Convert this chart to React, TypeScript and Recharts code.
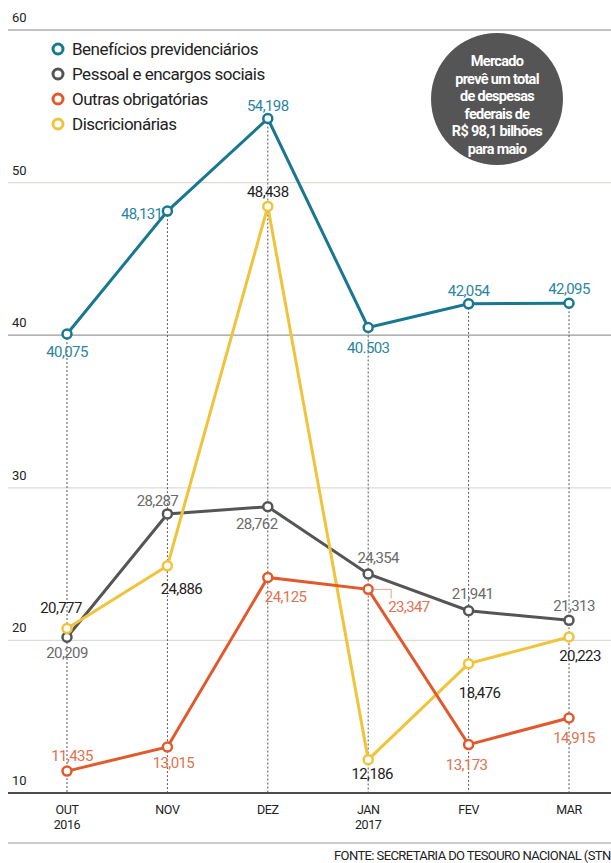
import React from 'react';
import { LineChart, Line, XAxis, YAxis, ReferenceLine } from 'recharts';

const months = ['OUT', 'NOV', 'DEZ', 'JAN', 'FEV', 'MAR'];
const years = ['2016', '', '', '2017', '', ''];

const beneficios = [40.075, 48.131, 54.198, 40.503, 42.054, 42.095];
const pessoal = [20.209, 28.287, 28.762, 24.354, 21.941, 21.313];
const outras = [11.435, 13.015, 24.125, 23.347, 13.173, 14.915];
const discricionarias = [20.777, 24.886, 48.438, 12.186, 18.476, 20.223];

const beneficiosLabels = ['40,075', '48,131', '54,198', '40.503', '42,054', '42,095'];
const pessoalLabels = ['20,209', '28,287', '28,762', '24,354', '21,941', '21,313'];
const outrasLabels = ['11,435', '13,015', '24,125', '23,347', '13,173', '14,915'];
const discricionariasLabels = ['20,777', '24,886', '48,438', '12,186', '18,476', '20,223'];

const yTicks = [60, 50, 40, 30, 20, 10];

const seriesNames = [
  'Benefícios previdenciários',
  'Pessoal e encargos sociais',
  'Outras obrigatórias',
  'Discricionárias',
];

const badgeLines = ['Mercado', 'prevê um total', 'de despesas', 'federais de', 'R$ 98,1 bilhões', 'para maio'];
const sourceText = 'FONTE: SECRETARIA DO TESOURO NACIONAL (STN';

const FONT = "Roboto, 'Noto Sans', sans-serif";

const C_BEN = '#17788f';
const C_PES = '#555555';
const C_OUT = '#e2592c';
const C_DIS = '#f0c43a';
const colors = [C_BEN, C_PES, C_OUT, C_DIS];

const data = months.map((m, i) => ({
  month: m,
  ben: beneficios[i],
  pes: pessoal[i],
  out: outras[i],
  dis: discricionarias[i],
  top: Math.max(beneficios[i], pessoal[i], outras[i], discricionarias[i]),
}));

type Place = [number, number, 'start' | 'middle' | 'end'];

const benPlace: Place[] = [[0, 23, 'middle'], [-5, 8, 'end'], [0, -8, 'middle'], [0, 25, 'middle'], [0, -8, 'middle'], [0, -9, 'middle']];
const pesPlace: Place[] = [[0, 21, 'middle'], [-10, -8, 'middle'], [-11, 22, 'middle'], [10, -11, 'middle'], [4, -12, 'middle'], [5, -9, 'middle']];
const outPlace: Place[] = [[5, -10, 'middle'], [6, 21, 'middle'], [-3, 25, 'start'], [20, 23, 'start'], [-2, 25, 'middle'], [5, 25, 'middle']];
const disPlace: Place[] = [[-6, -16, 'middle'], [14, 28, 'middle'], [0, -9, 'middle'], [4, 19, 'middle'], [11, 34, 'middle'], [11, 24, 'middle']];

const makeLabel = (texts: string[], place: Place[], color: string, bracket?: number) => (props: any) => {
  const { x, y, index } = props;
  const [dx, dy, anchor] = place[index];
  return (
    <g key={`lbl-${index}-${texts[index]}`}>
      {bracket === index && (
        <polyline
          points={`${x + 5},${y} ${x + 23},${y} ${x + 23},${y + 9}`}
          fill="none"
          stroke="#eaa08c"
          strokeWidth={1}
        />
      )}
      <text
        x={x + dx}
        y={y + dy}
        textAnchor={anchor}
        fill={color}
        fontSize={15}
        letterSpacing={-0.6}
        fontFamily={FONT}
      >
        {texts[index]}
      </text>
    </g>
  );
};

const XTick = (props: any) => {
  const { x, y, payload, index } = props;
  return (
    <g>
      <text x={x} y={y + 13} textAnchor="middle" fill="#222" fontSize={12.5} letterSpacing={-0.4} fontFamily={FONT}>
        {payload.value}
      </text>
      {years[index] && (
        <text x={x} y={y + 28} textAnchor="middle" fill="#222" fontSize={12.5} letterSpacing={-0.4} fontFamily={FONT}>
          {years[index]}
        </text>
      )}
    </g>
  );
};

const gridColor = (v: number) => {
  if (v === 10) return '#111';
  if (v === 60) return '#888';
  if (v === 40) return '#999';
  return '#dcdcd6';
};

const dotStyle = (c: string) => ({ r: 4.5, fill: '#fff', stroke: c, strokeWidth: 2.5 });

export default function App() {
  return (
    <div style={{ position: 'absolute', left: 0, top: 0, width: 611, height: 863, background: '#fff', overflow: 'hidden' }}>
      <LineChart width={611} height={863} data={data} margin={{ top: 30, right: 0, bottom: 40, left: 8 }}>
        <XAxis
          dataKey="month"
          height={30}
          padding={{ left: 59, right: 42 }}
          axisLine={false}
          tickLine={false}
          tick={<XTick />}
          interval={0}
        />
        <YAxis hide domain={[10, 60]} ticks={yTicks} type="number" allowDataOverflow />
        {yTicks.map((v) => (
          <ReferenceLine
            key={`g${v}`}
            y={v}
            stroke={gridColor(v)}
            strokeWidth={v === 10 ? 1.5 : 1.2}
            label={(p: any) => (
              <text x={p.viewBox.x + 4} y={p.viewBox.y - 8} fill="#222" fontSize={13} fontFamily={FONT}>
                {v}
              </text>
            )}
          />
        ))}
        {data.map((d) => (
          <ReferenceLine
            key={`v${d.month}`}
            segment={[{ x: d.month, y: d.top }, { x: d.month, y: 10 }]}
            stroke="#555"
            strokeDasharray="2 2"
            strokeWidth={1}
          />
        ))}
        <Line
          dataKey="ben"
          stroke={C_BEN}
          strokeWidth={3}
          dot={dotStyle(C_BEN)}
          activeDot={false}
          isAnimationActive={false}
          label={makeLabel(beneficiosLabels, benPlace, '#2a86a0')}
        />
        <Line
          dataKey="pes"
          stroke={C_PES}
          strokeWidth={3}
          dot={dotStyle(C_PES)}
          activeDot={false}
          isAnimationActive={false}
          label={makeLabel(pessoalLabels, pesPlace, '#6a6a6a')}
        />
        <Line
          dataKey="dis"
          stroke={C_DIS}
          strokeWidth={3}
          dot={dotStyle(C_DIS)}
          activeDot={false}
          isAnimationActive={false}
          label={makeLabel(discricionariasLabels, disPlace, '#1e1e1e')}
        />
        <Line
          dataKey="out"
          stroke={C_OUT}
          strokeWidth={3}
          dot={dotStyle(C_OUT)}
          activeDot={false}
          isAnimationActive={false}
          label={makeLabel(outrasLabels, outPlace, '#e07250', 3)}
        />
      </LineChart>
      <div style={{ position: 'absolute', left: 50, top: 36, fontFamily: FONT }}>
        {seriesNames.map((n, i) => (
          <div key={n} style={{ display: 'flex', alignItems: 'center', height: 25 }}>
            <svg width={16} height={16} style={{ marginRight: 6 }}>
              <circle cx={8} cy={8} r={5} fill="#fff" stroke={colors[i]} strokeWidth={3} />
            </svg>
            <span style={{ fontSize: 17, color: '#222', letterSpacing: -0.5 }}>{n}</span>
          </div>
        ))}
      </div>
      <svg width={611} height={863} style={{ position: 'absolute', left: 0, top: 0, pointerEvents: 'none' }}>
        <circle cx={497} cy={99} r={66} fill="#555555" />
        {badgeLines.map((t, i) => (
          <text
            key={t}
            x={497}
            y={66 + i * 17.5}
            textAnchor="middle"
            fill="#fff"
            fontSize={14.5}
            fontWeight="bold"
            letterSpacing={-0.7}
            fontFamily={FONT}
          >
            {t}
          </text>
        ))}
        <line x1={8} y1={843} x2={611} y2={843} stroke="#999" strokeWidth={1.2} />
        <text x={334} y={860} fill="#222" fontSize={13} letterSpacing={-0.6} fontFamily={FONT}>
          {sourceText}
        </text>
      </svg>
    </div>
  );
}
